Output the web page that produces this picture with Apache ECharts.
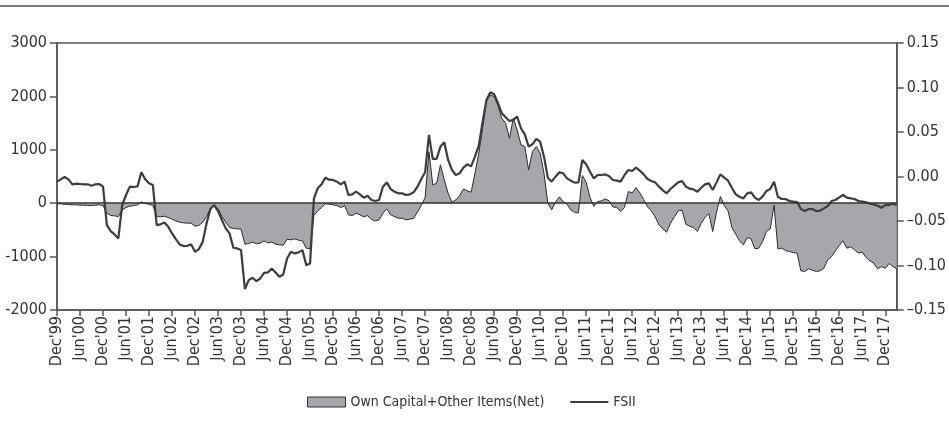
<!DOCTYPE html>
<html>
<head>
<meta charset="utf-8">
<script src="https://cdn.jsdelivr.net/npm/echarts@6/dist/echarts.min.js"></script>
<style>
html, body { margin: 0; padding: 0; background: #fff; }
#chart { width: 949px; height: 439px; }
</style>
</head>
<body>
<div id="chart"></div>
<script>
// Monthly data, Dec 1999 .. Mar 2018
const startYear = 1999, startMonth = 11; // December
const monthNames = ['Jan', 'Feb', 'Mar', 'Apr', 'May', 'Jun', 'Jul', 'Aug', 'Sep', 'Oct', 'Nov', 'Dec'];

// Own Capital + Other Items (Net), left axis
const ownCapital = [
  -12, -12, -19, -25, -31, -31, -37, -37, -44, -44, -37, -31, -44, -187, -231, -237, -250, -125, -81, -56,
  -44, -31, 25, -6, -19, -44, -250, -256, -243, -268, -300, -331, -356, -368, -374, -374, -431, -418, -356, -250,
  -106, -44, -106, -250, -356,
  -456, -474, -480, -487, -768, -755, -730, -761, -749, -705, -743, -730, -768, -780, -786, -674, -686, -668, -693, -705,
  -842, -855, -231, -143, -81, -12, -19, -31, -44, -81, -44, -218, -231, -187, -218, -256, -231, -306, -331, -312,
  -187, -106, -218,
  -250, -281, -281, -312, -300, -281, -168, -44, 106, 967, 343, 374, 718, 437, 187, 19, 62, 143, 268, 231,
  206, 562, 936, 1404, 1916, 2028, 1997, 1828, 1591, 1498, 1217, 1591, 1373, 1092, 1061, 624, 967, 1061, 936, 562,
  0, -125, 19,
  119, 31, -19, -125, -175, -181, 518, 393, 106, -62, 31, 44, 81, 44, -69, -81, -156, -81, 218, 193,
  293, 193, 69, -69, -144, -256, -406, -480, -543, -374, -256, -144, -131, -393, -431, -456, -530, -374, -268, -193,
  -530, -168, 125, -44, -144,
  -456, -580, -705, -780, -643, -668, -855, -842, -718, -530, -480, -40, -855, -842, -886, -905, -924, -936, -1267, -1279,
  -1229, -1254, -1279, -1267, -1217, -1061, -998, -892, -792, -705, -842, -817, -873, -936, -917, -1017, -1080, -1123, -1229, -1186,
  -1217, -1130, -1186, -1229
];

// FSII, right axis
const fsii = [
  -0.0058, -0.0032, -0.0006, -0.0032, -0.0088, -0.0081, -0.0084, -0.0088, -0.0088, -0.0103, -0.0088, -0.0084, -0.0114, -0.0546, -0.0613, -0.0651, -0.0696, -0.0321, -0.0208, -0.0114,
  -0.0118, -0.0111, 0.0047, -0.0032, -0.0077, -0.0096, -0.0546, -0.0538, -0.0516, -0.0564, -0.0639, -0.0703, -0.0763, -0.0782, -0.0778, -0.0763, -0.0846, -0.0816, -0.0733, -0.0527,
  -0.0366, -0.0321, -0.0388, -0.0489, -0.0583,
  -0.0639, -0.0801, -0.0808, -0.0827, -0.1266, -0.1164, -0.1138, -0.1176, -0.1146, -0.1082, -0.1078, -0.1033, -0.1078, -0.1127, -0.1101, -0.0921, -0.0846, -0.0864, -0.0853, -0.0827,
  -0.0996, -0.0977, -0.0246, -0.0133, -0.0088, -0.0013, -0.0036, -0.0039, -0.0058, -0.0088, -0.0058, -0.0208, -0.0201, -0.0171, -0.0201, -0.0238, -0.0216, -0.0264, -0.0276, -0.0264,
  -0.0114, -0.0066, -0.0141,
  -0.0171, -0.0189, -0.0189, -0.0208, -0.0201, -0.0178, -0.0114, -0.0028, 0.0047, 0.0467, 0.0197, 0.0197, 0.0336, 0.0384, 0.0186, 0.0073, 0.0017, 0.0036, 0.0099, 0.0137,
  0.0114, 0.0223, 0.0347, 0.0617, 0.0861, 0.0947, 0.0924, 0.0823, 0.0711, 0.0666, 0.0624, 0.0636, 0.0673, 0.0542, 0.0474, 0.0336, 0.0362, 0.0422, 0.0392, 0.0223,
  -0.0013, -0.0058, -0.0002,
  0.0047, 0.0036, -0.0021, -0.0047, -0.0069, -0.0066, 0.0186, 0.0137, 0.0054, -0.0021, 0.0017, 0.0017, 0.0024, 0.0002, -0.0039, -0.0047, -0.0058, 0.0017, 0.0073, 0.0062,
  0.0099, 0.0066, 0.0024, -0.0028, -0.0051, -0.0066, -0.0114, -0.0156, -0.0189, -0.0141, -0.0103, -0.0066, -0.0051, -0.0114, -0.0137, -0.0144, -0.0171, -0.0126, -0.0088, -0.0077,
  -0.0152, -0.0066, 0.0024, -0.0013, -0.0047,
  -0.0126, -0.0201, -0.0227, -0.0246, -0.0189, -0.0178, -0.0238, -0.0264, -0.0227, -0.0163, -0.0141, -0.0058, -0.0227, -0.0253, -0.0253, -0.0276, -0.0283, -0.0287, -0.0366, -0.0388,
  -0.0366, -0.0366, -0.0388, -0.0384, -0.0358, -0.0332, -0.0276, -0.0264, -0.0234, -0.0208, -0.0238, -0.0246, -0.0253, -0.0276, -0.0283, -0.0291, -0.0306, -0.0313, -0.0328, -0.0351,
  -0.0321, -0.0321, -0.0306, -0.0321
];

// month categories: Dec'99, Jan'00, ...
const months = [];
for (let i = 0; i < ownCapital.length; i++) {
    const m = (startMonth + i) % 12;
    const y = startYear + Math.floor((startMonth + i) / 12);
    months.push(monthNames[m] + "'" + String(y % 100).padStart(2, '0'));
}

const FONT = '"Liberation Sans Narrow", "DejaVu Sans Condensed", sans-serif';
const TEXT = '#333';
const AXIS = '#555';

const chart = echarts.init(document.getElementById('chart'));

chart.setOption({
    animation: false,
    textStyle: { fontFamily: FONT },
    graphic: [
        {
            // rule across the top of the figure
            type: 'line',
            shape: { x1: 0, y1: 6, x2: 949, y2: 6 },
            style: { stroke: '#555', lineWidth: 1.5 }
        }
    ],
    grid: {
        left: 57,
        right: 50,
        top: 43,
        bottom: 129,
        show: true,
        borderColor: AXIS,
        borderWidth: 1.5
    },
    legend: {
        left: 302,
        top: 390,
        itemWidth: 38,
        itemHeight: 10,
        itemGap: 26,
        textStyle: { fontFamily: FONT, fontSize: 14, color: TEXT },
        data: [
            {
                name: 'Own Capital+Other Items(Net)',
                icon: 'rect',
                itemStyle: { color: '#a6a7aa', borderColor: '#333', borderWidth: 1 }
            },
            {
                name: 'FSII',
                icon: 'path://M0 0H38V2.2H0Z',
                itemStyle: { color: '#3d3d3d', borderWidth: 0 }
            }
        ]
    },
    xAxis: {
        type: 'category',
        data: months,
        boundaryGap: false,
        axisLine: { onZero: false, lineStyle: { color: AXIS, width: 1.5 } },
        axisTick: { interval: 5, length: 6, lineStyle: { color: AXIS, width: 1.5 } },
        axisLabel: {
            interval: 5,
            rotate: 90,
            margin: 6,
            fontFamily: FONT,
            fontSize: 16,
            color: TEXT
        },
        splitLine: { show: false }
    },
    yAxis: [
        {
            type: 'value',
            min: -2000,
            max: 3000,
            interval: 1000,
            axisLine: { show: true, lineStyle: { color: AXIS, width: 1.5 } },
            axisTick: { show: true, length: 7, lineStyle: { color: AXIS, width: 1.5 } },
            axisLabel: {
                fontFamily: FONT,
                fontSize: 16,
                color: TEXT,
                margin: 10,
                formatter: function (v) { return String(v); }
            },
            splitLine: { show: false }
        },
        {
            type: 'value',
            min: -0.15,
            max: 0.15,
            interval: 0.05,
            position: 'right',
            axisLine: { show: true, lineStyle: { color: AXIS, width: 1.5 } },
            axisTick: { show: true, length: 7, lineStyle: { color: AXIS, width: 1.5 } },
            axisLabel: {
                fontFamily: FONT,
                fontSize: 16,
                color: TEXT,
                margin: 10,
                formatter: function (v) {
                    if (Math.abs(v) < 1e-9) return '0.00';
                    return (v < 0 ? '\u2013' : '') + Math.abs(v).toFixed(2);
                }
            },
            splitLine: { show: false }
        }
    ],
    series: [
        {
            name: 'Own Capital+Other Items(Net)',
            type: 'line',
            yAxisIndex: 0,
            data: ownCapital,
            symbol: 'none',
            lineStyle: { color: '#2b2b2b', width: 1 },
            areaStyle: { color: '#a6a7aa', opacity: 1 },
            itemStyle: { color: '#a6a7aa' },
            z: 2,
            markLine: {
                silent: true,
                symbol: ['none', 'none'],
                label: { show: false },
                lineStyle: { color: '#333', width: 1.5, type: 'solid' },
                data: [{ yAxis: 0 }]
            }
        },
        {
            name: 'FSII',
            type: 'line',
            yAxisIndex: 1,
            data: fsii,
            symbol: 'none',
            lineStyle: { color: '#3d3d3d', width: 2.2 },
            itemStyle: { color: '#3d3d3d' },
            z: 3
        }
    ]
});
</script>
</body>
</html>
